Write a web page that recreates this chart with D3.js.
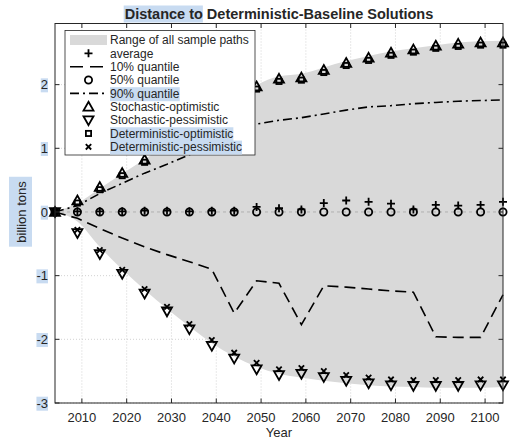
<!DOCTYPE html>
<html><head><meta charset="utf-8">
<script src="https://cdn.jsdelivr.net/npm/d3@7"></script>
<style>
body{margin:0;background:#fff}
text{font-family:"Liberation Sans",Arial,Helvetica,sans-serif;fill:#262626}
</style>
</head><body>
<svg id="c" width="510" height="442"></svg>
<script>
// ---------------- data ----------------
const years      = [2004,2009,2014,2019,2024,2029,2034,2039,2044,2049,2054,2059,2064,2069,2074,2079,2084,2089,2094,2099,2104];
const bandUpper  = [0,0.14,0.37,0.60,0.83,1.06,1.29,1.52,1.75,1.99,2.13,2.17,2.27,2.37,2.45,2.52,2.57,2.62,2.66,2.68,2.69];
const bandLower  = [0,-0.15,-0.55,-0.90,-1.22,-1.52,-1.80,-2.06,-2.27,-2.43,-2.54,-2.60,-2.65,-2.69,-2.72,-2.74,-2.75,-2.76,-2.76,-2.76,-2.75];
const average    = [0,0.01,0.01,0.01,0.02,0.02,0.01,0.02,0.02,0.08,0.06,0.04,0.14,0.18,0.16,0.13,0.04,0.11,0.10,0.11,0.16];
const q10        = [0,-0.10,-0.26,-0.41,-0.55,-0.67,-0.78,-0.90,-1.59,-1.08,-1.12,-1.77,-1.16,-1.18,-1.21,-1.24,-1.26,-1.96,-1.97,-1.97,-1.30];
const q50        = [0,0,0,0,0,0,0,0,0,0,0,0,0,0,0,0,0,0,0,0,0];
const q90        = [0,0.10,0.29,0.45,0.61,0.75,0.90,1.05,1.21,1.38,1.44,1.48,1.54,1.60,1.65,1.67,1.70,1.72,1.74,1.75,1.76];
const stochOpt   = [0,0.18,0.39,0.61,0.82,1.04,1.27,1.50,1.73,1.97,2.09,2.11,2.23,2.34,2.42,2.50,2.55,2.61,2.64,2.66,2.66];
const stochPess  = [0,-0.33,-0.66,-0.97,-1.28,-1.56,-1.84,-2.10,-2.30,-2.47,-2.56,-2.54,-2.59,-2.65,-2.69,-2.72,-2.73,-2.73,-2.73,-2.72,-2.72];
const detOpt     = [0,0.14,0.35,0.57,0.78,1.00,1.23,1.46,1.69,1.93,2.05,2.07,2.19,2.30,2.38,2.46,2.51,2.57,2.60,2.62,2.62];
const detPess    = [0,-0.28,-0.60,-0.91,-1.21,-1.49,-1.76,-2.01,-2.21,-2.37,-2.47,-2.45,-2.50,-2.56,-2.60,-2.63,-2.64,-2.64,-2.64,-2.63,-2.63];
const xTicks     = [2010,2020,2030,2040,2050,2060,2070,2080,2090,2100];
const yTicks     = [-3,-2,-1,0,1,2];
const legendLabels = ["Range of all sample paths","average","10% quantile","50% quantile","90% quantile","Stochastic-optimistic","Stochastic-pessimistic","Deterministic-optimistic","Deterministic-pessimistic"];
const titleText  = "Distance to Deterministic-Baseline Solutions";
const xLabel = "Year", yLabel = "billion tons";

// ---------------- setup ----------------
const svg = d3.select("#c");
const L = 55, R = 503, T = 23.5, B = 403;
const x = d3.scaleLinear().domain([2004,2104]).range([L,R]);
const y = d3.scaleLinear().domain([-3,2.96]).range([B,T]);
const HL = "#c8dbf1";
const ink = "#000";

// grid
const grid = svg.append("g");
grid.selectAll("line.vx").data(xTicks).join("line")
  .attr("x1",d=>x(d)).attr("x2",d=>x(d)).attr("y1",T).attr("y2",B)
  .attr("stroke","#c8c8c8").attr("stroke-width",0.8).attr("stroke-dasharray","1,2");
grid.selectAll("line.hy").data(yTicks).join("line")
  .attr("x1",L).attr("x2",R).attr("y1",d=>y(d)).attr("y2",d=>y(d))
  .attr("stroke","#c8c8c8").attr("stroke-width",0.8).attr("stroke-dasharray","1,2");

// band
const bandData = years.map((yr,i)=>({yr,lo:bandLower[i],hi:bandUpper[i]}));
svg.append("path").datum(bandData)
  .attr("d", d3.area().x(d=>x(d.yr)).y0(d=>y(d.lo)).y1(d=>y(d.hi)).curve(d3.curveMonotoneX))
  .attr("fill","#d9d9d9");

// zero dashed line
svg.append("line").attr("x1",x(2004)).attr("x2",x(2104)).attr("y1",y(0)).attr("y2",y(0))
  .attr("stroke","#b0b0b0").attr("stroke-width",1).attr("stroke-dasharray","3,3");

// lines
const lineGen = d3.line().x((d,i)=>x(years[i])).y(d=>y(d));
svg.append("path").datum(q10).attr("d",lineGen).attr("fill","none").attr("stroke",ink)
  .attr("stroke-width",1.6).attr("stroke-dasharray","11,6");
svg.append("path").datum(q90).attr("d",lineGen).attr("fill","none").attr("stroke",ink)
  .attr("stroke-width",1.6).attr("stroke-dasharray","9,4,2,4");

// markers
function marker(g, type, cx, cy){
  const sw = 1.8;
  if(type==="plus"){
    g.append("path").attr("d",`M${cx-4},${cy}H${cx+4}M${cx},${cy-4}V${cy+4}`).attr("stroke",ink).attr("stroke-width",sw).attr("fill","none");
  } else if(type==="x"){
    g.append("path").attr("d",`M${cx-2.7},${cy-2.7}L${cx+2.7},${cy+2.7}M${cx-2.7},${cy+2.7}L${cx+2.7},${cy-2.7}`).attr("stroke",ink).attr("stroke-width",sw).attr("fill","none");
  } else if(type==="circle"){
    g.append("circle").attr("cx",cx).attr("cy",cy).attr("r",3.6).attr("stroke",ink).attr("stroke-width",sw).attr("fill","none");
  } else if(type==="square"){
    g.append("rect").attr("x",cx-2.6).attr("y",cy-2.6).attr("width",5.2).attr("height",5.2).attr("stroke",ink).attr("stroke-width",sw).attr("fill","none");
  } else if(type==="tup"){
    g.append("path").attr("d",`M${cx},${cy-5}L${cx+5},${cy+3.8}L${cx-5},${cy+3.8}Z`).attr("stroke",ink).attr("stroke-width",sw).attr("fill","none").attr("stroke-linejoin","miter");
  } else if(type==="tdown"){
    g.append("path").attr("d",`M${cx},${cy+5}L${cx+5},${cy-3.8}L${cx-5},${cy-3.8}Z`).attr("stroke",ink).attr("stroke-width",sw).attr("fill","none").attr("stroke-linejoin","miter");
  }
}
const series = [
  {vals:q50,type:"circle"},
  {vals:average,type:"plus"},
  {vals:stochOpt,type:"tup"},
  {vals:stochPess,type:"tdown"},
  {vals:detOpt,type:"square"},
  {vals:detPess,type:"x"}
];
const mg = svg.append("g");
series.forEach(s=>{ s.vals.forEach((v,i)=>marker(mg,s.type,x(years[i]),y(v))); });

// axes box
const ax = svg.append("g");
const axHL = ax.append("g");
ax.append("rect").attr("x",L).attr("y",T).attr("width",R-L).attr("height",B-T)
  .attr("fill","none").attr("stroke","#262626").attr("stroke-width",1);
xTicks.forEach(t=>{
  ax.append("line").attr("x1",x(t)).attr("x2",x(t)).attr("y1",B).attr("y2",B-4.5).attr("stroke","#262626");
  ax.append("line").attr("x1",x(t)).attr("x2",x(t)).attr("y1",T).attr("y2",T+4.5).attr("stroke","#262626");
  ax.append("text").attr("x",x(t)).attr("y",B+18.5).attr("text-anchor","middle").attr("font-size",13).text(t);
});
yTicks.forEach(t=>{
  ax.append("line").attr("x1",L).attr("x2",L+4.5).attr("y1",y(t)).attr("y2",y(t)).attr("stroke","#262626");
  ax.append("line").attr("x1",R).attr("x2",R-4.5).attr("y1",y(t)).attr("y2",y(t)).attr("stroke","#262626");
  const tx = ax.append("text").attr("x",L-7).attr("y",y(t)+4.7).attr("text-anchor","end").attr("font-size",13).text(t);
  const bb = tx.node().getBBox();
  axHL.append("rect").attr("x",bb.x).attr("y",bb.y+1).attr("width",bb.width).attr("height",bb.height-1).attr("fill",HL);
});
ax.append("text").attr("x",(L+R)/2).attr("y",437).attr("text-anchor","middle").attr("font-size",13).text(xLabel);
// y label with highlight
const yl = svg.append("g").attr("transform",`translate(26,${y(0)}) rotate(-90)`);
const ylHL = yl.append("g");
const ylt = yl.append("text").attr("x",0).attr("y",0).attr("text-anchor","middle").attr("font-size",13).text(yLabel);
const ylb = ylt.node().getBBox();
ylHL.append("rect").attr("x",ylb.x-4).attr("y",ylb.y-5).attr("width",ylb.width+8).attr("height",ylb.height+8).attr("fill",HL);

// title
const titleHL = svg.append("g");
const tt = svg.append("text").attr("y",18.5).attr("font-size",14.5).attr("font-weight","bold").text(titleText);
const tw = tt.node().getComputedTextLength();
const tx0 = (L+R)/2 - tw/2;
tt.attr("x",tx0);
const subW = tt.node().getSubStringLength(0,11);
titleHL.append("rect").attr("x",tx0-1).attr("y",5.5).attr("width",subW+1).attr("height",17).attr("fill",HL);

// legend
const lg = svg.append("g");
lg.append("rect").attr("x",65).attr("y",30.5).attr("width",190).attr("height",124.5)
  .attr("fill","#fff").attr("stroke","#262626").attr("stroke-width",0.8);
const lgHL = lg.append("g");
const rowY = i => 40 + i*13.35;
const sx0 = 70, sx1 = 107, smid = 88.5, ltx = 110;
legendLabels.forEach((lab,i)=>{
  const cy = rowY(i);
  const t = lg.append("text").attr("x",ltx).attr("y",cy+4.3).attr("font-size",12).text(lab);
  if(i===4||i===7||i===8){
    const bb = t.node().getBBox();
    lgHL.append("rect").attr("x",bb.x).attr("y",bb.y+0.5).attr("width",bb.width).attr("height",bb.height).attr("fill",HL);
  }
});
lg.append("rect").attr("x",sx0).attr("y",rowY(0)-5).attr("width",sx1-sx0).attr("height",10).attr("fill","#d9d9d9");
marker(lg,"plus",smid,rowY(1));
lg.append("line").attr("x1",sx0).attr("x2",sx1).attr("y1",rowY(2)).attr("y2",rowY(2)).attr("stroke",ink).attr("stroke-width",1.6).attr("stroke-dasharray","13,7");
marker(lg,"circle",smid,rowY(3));
lg.append("line").attr("x1",sx0).attr("x2",sx1).attr("y1",rowY(4)).attr("y2",rowY(4)).attr("stroke",ink).attr("stroke-width",1.6).attr("stroke-dasharray","9,4,2,4");
marker(lg,"tup",smid,rowY(5));
marker(lg,"tdown",smid,rowY(6));
marker(lg,"square",smid,rowY(7));
marker(lg,"x",smid,rowY(8));
</script>
</body></html>
